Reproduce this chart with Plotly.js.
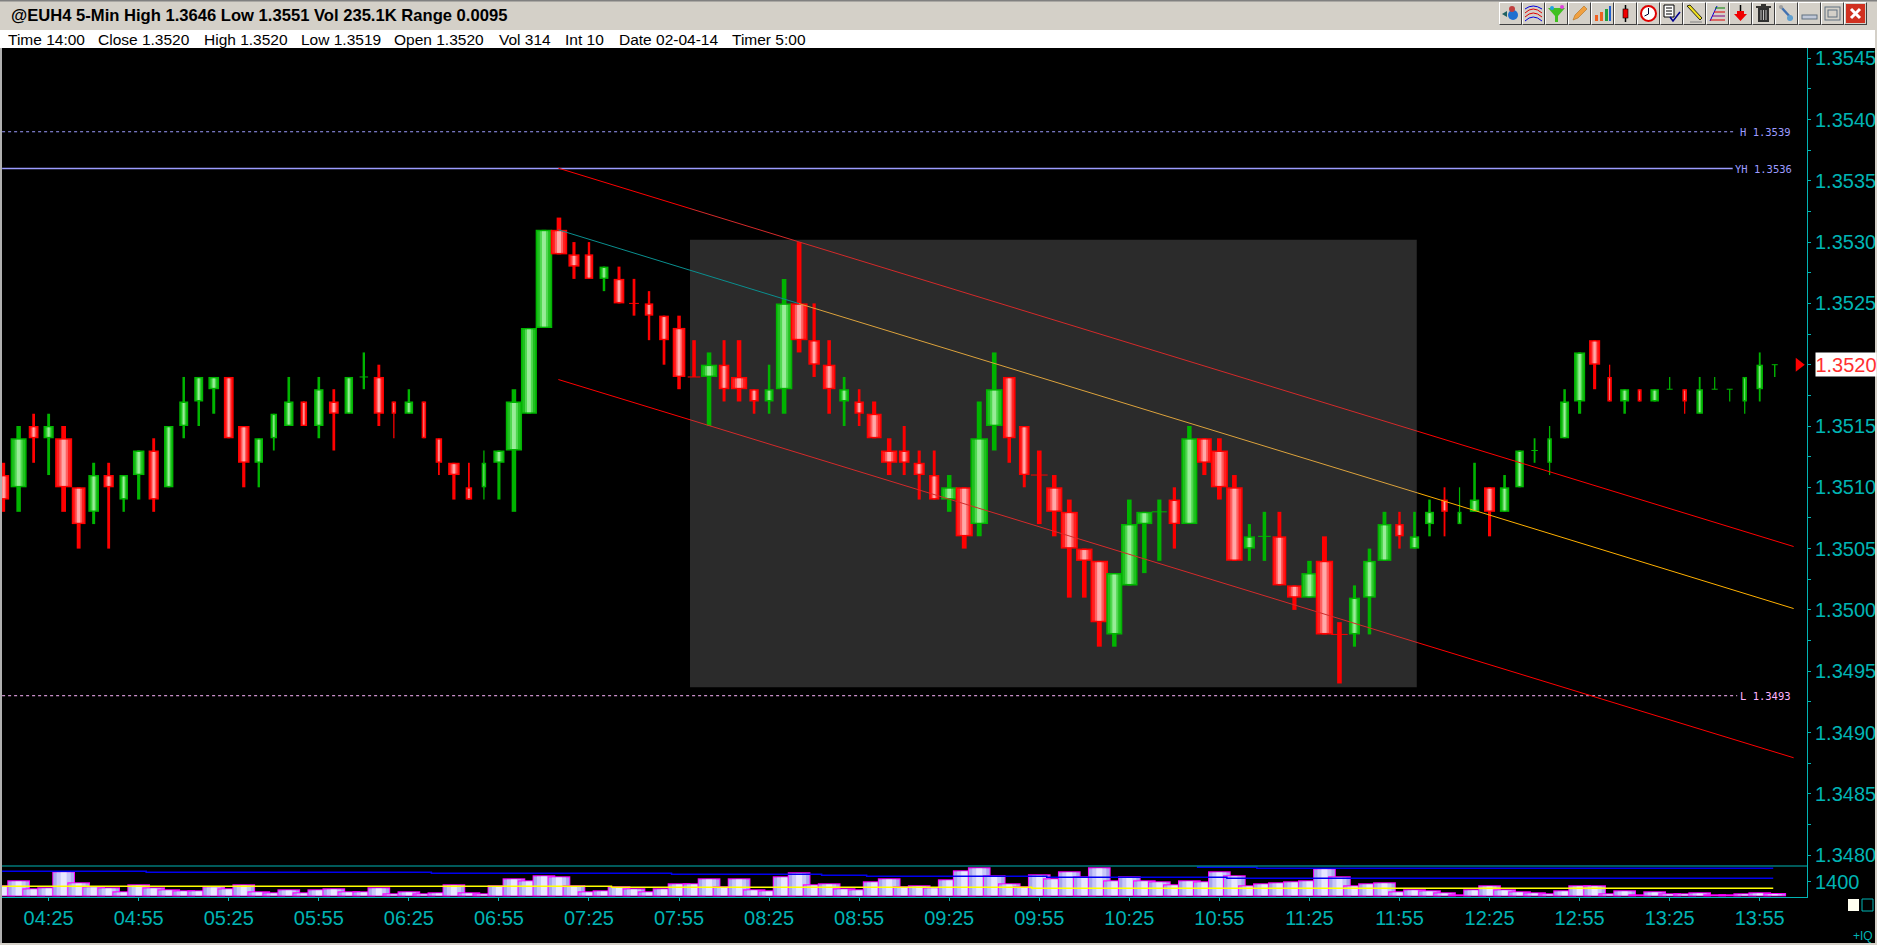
<!DOCTYPE html>
<html>
<head>
<meta charset="utf-8">
<script src="https://cdn.plot.ly/plotly-3.0.1.min.js"></script>
<style>
html, body { margin: 0; padding: 0; background: #000; overflow: hidden; }
#chart { position: absolute; left: 0; top: 0; width: 1877px; height: 945px; }
#toolbar { position: absolute; left: 1499px; top: 2px; display: flex; }
#toolbar div { width: 21px; height: 21px; background: #d4d0c8; border-style: solid; border-width: 1px;
  border-color: #fff #404040 #404040 #fff; overflow: hidden; }
#toolbar svg { display: block; width: 21px; height: 21px; }
</style>
</head>
<body>
<div id="chart"></div>
<div id="toolbar"></div>
<script>
// 5 minute bars from 04:10 to 14:00
const opens = [
  1.3511,1.3510,1.3515,1.3514,1.3514,1.3510,1.3508,1.3511,1.3509,1.3511,1.3513,1.3510,
  1.3515,1.3517,1.3518,1.3519,1.3515,1.3512,1.3514,1.3515,1.3517,1.3515,1.3517,1.3516,
  1.3519,1.3519,1.3517,1.3516,1.3517,1.3514,1.3512,1.3510,1.3510,1.3512,1.3513,1.3516,
  1.3523,1.3531,1.3529,1.3529,1.3527,1.3527,1.3525,1.3525,1.3524,1.3523,1.3519,1.3519,
  1.3520,1.3519,1.3518,1.3517,1.3518,1.3525,1.3522,1.3520,1.3517,1.3517,1.3516,1.3513,
  1.3513,1.3512,1.3511,1.3509,1.3510,1.3507,1.3515,1.3519,1.3515,1.3511,1.3510,1.3508,
  1.3505,1.3504,1.3498,1.3502,1.3507,1.3508,1.3509,1.3507,1.3514,1.3513,1.3510,1.3505,
  1.3506,1.3506,1.3502,1.3501,1.3504,1.3498,1.3498,1.3501,1.3504,1.3507,1.3505,1.3507,
  1.3509,1.3507,1.3508,1.3510,1.3508,1.3510,1.3513,1.3512,1.3514,1.3517,1.3522,1.3519,
  1.3517,1.3518,1.3517,1.3518,1.3518,1.3516,1.3518,1.3518,1.3517,1.3518,1.3520];
const highs = [
  1.3512,1.3515,1.3516,1.3516,1.3515,1.3510,1.3512,1.3512,1.3511,1.3513,1.3514,1.3515,
  1.3519,1.3519,1.3519,1.3519,1.3515,1.3514,1.3516,1.3519,1.3517,1.3519,1.3518,1.3519,
  1.3521,1.3520,1.3517,1.3518,1.3517,1.3514,1.3512,1.3512,1.3513,1.3513,1.3518,1.3523,
  1.3531,1.3532,1.3530,1.3530,1.3528,1.3528,1.3527,1.3526,1.3524,1.3524,1.3522,1.3521,
  1.3522,1.3522,1.3518,1.3520,1.3527,1.3530,1.3525,1.3522,1.3519,1.3518,1.3517,1.3514,
  1.3515,1.3513,1.3513,1.3511,1.3510,1.3517,1.3521,1.3519,1.3515,1.3513,1.3511,1.3509,
  1.3505,1.3504,1.3503,1.3509,1.3508,1.3509,1.3510,1.3515,1.3514,1.3514,1.3511,1.3507,
  1.3508,1.3508,1.3502,1.3504,1.3506,1.3499,1.3502,1.3505,1.3508,1.3508,1.3508,1.3509,
  1.3510,1.3510,1.3512,1.3510,1.3511,1.3513,1.3514,1.3515,1.3518,1.3521,1.3522,1.3520,
  1.3518,1.3518,1.3518,1.3519,1.3518,1.3519,1.3519,1.3518,1.3519,1.3521,1.3520];
const lows = [
  1.3508,1.3508,1.3512,1.3511,1.3508,1.3505,1.3507,1.3505,1.3508,1.3509,1.3508,1.3510,
  1.3514,1.3515,1.3516,1.3514,1.3510,1.3510,1.3513,1.3515,1.3515,1.3514,1.3513,1.3516,
  1.3518,1.3515,1.3514,1.3516,1.3514,1.3511,1.3509,1.3509,1.3509,1.3509,1.3508,1.3516,
  1.3523,1.3529,1.3527,1.3527,1.3526,1.3525,1.3524,1.3522,1.3520,1.3518,1.3519,1.3515,
  1.3517,1.3517,1.3516,1.3516,1.3516,1.3521,1.3519,1.3516,1.3515,1.3515,1.3514,1.3511,
  1.3511,1.3509,1.3509,1.3508,1.3505,1.3506,1.3513,1.3512,1.3510,1.3507,1.3506,1.3501,
  1.3501,1.3497,1.3497,1.3502,1.3503,1.3504,1.3505,1.3507,1.3511,1.3509,1.3504,1.3504,
  1.3504,1.3502,1.3500,1.3501,1.3498,1.3494,1.3497,1.3498,1.3504,1.3505,1.3505,1.3506,
  1.3506,1.3507,1.3508,1.3506,1.3508,1.3510,1.3512,1.3511,1.3514,1.3516,1.3518,1.3517,
  1.3516,1.3517,1.3517,1.3518,1.3516,1.3516,1.3518,1.3517,1.3516,1.3517,1.3519];
const closes = [
  1.3509,1.3514,1.3514,1.3515,1.3510,1.3507,1.3511,1.3510,1.3511,1.3513,1.3509,1.3515,
  1.3517,1.3519,1.3519,1.3514,1.3512,1.3514,1.3516,1.3517,1.3515,1.3518,1.3516,1.3519,
  1.3519,1.3516,1.3516,1.3517,1.3514,1.3512,1.3511,1.3509,1.3512,1.3513,1.3517,1.3523,
  1.3531,1.3529,1.3528,1.3527,1.3528,1.3525,1.3525,1.3524,1.3522,1.3519,1.3519,1.3520,
  1.3518,1.3518,1.3517,1.3518,1.3525,1.3522,1.3520,1.3518,1.3518,1.3516,1.3514,1.3512,
  1.3512,1.3511,1.3509,1.3510,1.3506,1.3514,1.3518,1.3514,1.3511,1.3511,1.3508,1.3505,
  1.3504,1.3499,1.3503,1.3507,1.3508,1.3508,1.3507,1.3514,1.3512,1.3510,1.3504,1.3506,
  1.3506,1.3502,1.3501,1.3503,1.3498,1.3498,1.3501,1.3504,1.3507,1.3506,1.3506,1.3508,
  1.3508,1.3508,1.3509,1.3508,1.3510,1.3513,1.3513,1.3514,1.3517,1.3521,1.3520,1.3517,
  1.3518,1.3517,1.3518,1.3518,1.3517,1.3518,1.3518,1.3518,1.3519,1.3520,1.3520];
// bars where open equals close but the platform paints them green
const greenDojis = [24, 77, 84, 102, 111, 114, 115, 118];

const volumes = [
  1056,1536,768,864,2400,1344,960,864,480,1152,864,672,
  576,576,960,768,1152,480,384,672,384,672,768,480,
  480,864,288,480,288,384,1152,384,288,1056,1728,1536,
  2016,1920,1056,480,576,960,768,480,768,1248,1248,1728,
  960,1728,672,576,1920,2304,1152,1248,768,672,1440,1728,
  960,1056,864,1632,2496,2784,2016,1248,960,2112,1728,2400,
  1920,2784,1536,1920,1536,1440,1152,1536,1440,2400,2016,1056,
  1248,1344,1440,1536,2688,1920,1056,1248,1344,480,672,576,
  384,192,672,1056,672,480,384,288,576,1056,1056,288,
  576,192,480,288,288,384,192,192,288,384,314];

// step lines in the volume pane
const volAvgX = [-0.1, 40.5, 68.5, 117.9];
const volAvgY = [960, 864, 768, 768];
const volBlueX = [-0.1, 9.5, 28.5, 44.5, 54.5, 57.5, 69.5, 81.5, 117.9];
const volBlueY = [2400, 2304, 2208, 2112, 2016, 1920, 1824, 1728, 1728];
const volTopX = [79.5, 83.5, 117.9];
const volTopY = [2784, 2688, 2688];

// regression channel, split where its colour changes
const channelX = [36.96, 45.73, 94.23, 119.26];
const channelUpper = [1.353603, 1.353274, 1.351456, 1.350517];
const channelLower = [1.351879, 1.351551, 1.349732, 1.348794];
const channelMidX = [36.96, 53, 94.23, 119.26];
const channelMid = [1.3531, 1.352498, 1.350953, 1.350011];

const levelNames = ['H 1.3539', 'YH 1.3536', 'L 1.3493'];
const levelValues = [1.3539, 1.3536, 1.3493];
const lastPrice = 1.3520;

const tickTimes = ['04:25','04:55','05:25','05:55','06:25','06:55','07:25','07:55','08:25','08:55',
  '09:25','09:55','10:25','10:55','11:25','11:55','12:25','12:55','13:25','13:55'];
const priceTicks = [1.348,1.3485,1.349,1.3495,1.35,1.3505,1.351,1.3515,1.352,1.3525,1.353,1.3535,1.354,1.3545];

const titleText = '@EUH4 5-Min High 1.3646 Low 1.3551 Vol 235.1K Range 0.0095';
const infoItems = ['Time 14:00','Close 1.3520','High 1.3520','Low 1.3519','Open 1.3520','Vol 314','Int 10','Date 02-04-14','Timer 5:00'];
const infoLeft = [7, 96.5, 202.5, 300, 393, 497.5, 563.5, 617.5, 731];

// page geometry, in pixels of the 1877x945 window
const W = 1877, H = 945;
const PLOT_L = 2, PLOT_R = 1807, PRICE_T = 48, VOL_T = 866, VOL_B = 897;
const BAR_PX = 15.01;
const PRICE_PX = 0.0001 / 12.26;
const VOL_PX = 96;
const TEAL = '#00b4b4';
const SANS = 'Liberation Sans';
const px = (x) => x / W;
const py = (y) => 1 - y / H;

// candle width follows volume, as the platform does
const widthStops = [[192, 4], [288, 4.5], [480, 8.5], [1152, 11.5], [1536, 16], [2784, 17.5]];
function bodyWidth(v) {
  for (let k = 1; k < widthStops.length; k++) {
    if (v <= widthStops[k][0]) {
      const a = widthStops[k - 1], b = widthStops[k];
      return a[1] + (b[1] - a[1]) * Math.max(0, v - a[0]) / (b[0] - a[0]);
    }
  }
  return 17.5;
}

function barLayers() {
  const t = { x: [], base: [], y: [], width: [], color: [] };
  t.add = function (x, lo, hi, w, color) {
    t.x.push(x); t.base.push(lo); t.y.push(hi - lo); t.width.push(w / BAR_PX); t.color.push(color);
  };
  return t;
}

const GREEN = ['#00b400', '#20c020', '#50d850', '#98ec98'];
const RED = ['#ff0000', '#ff2020', '#ff6060', '#ffa8a8'];

const candles = barLayers();
opens.forEach(function (o, i) {
  const c = closes[i];
  const pal = (c > o || greenDojis.includes(i)) ? GREEN : RED;
  const top = Math.max(o, c), bottom = Math.min(o, c), w = bodyWidth(volumes[i]);
  candles.add(i, lows[i], highs[i], Math.max(1.2, w * 0.28), pal[0]);
  if (top === bottom) {
    candles.add(i, bottom - PRICE_PX * 0.5, bottom + PRICE_PX * 0.5, Math.max(w, 6), pal[0]);
    return;
  }
  candles.add(i, bottom, top, w, pal[0]);
  const inset = 1.5 * PRICE_PX;
  candles.add(i, bottom + inset, top - inset, w - 3.2, pal[1]);
  candles.add(i, bottom + inset, top - inset, (w - 3.2) * 0.62, pal[2]);
  candles.add(i, bottom + inset, top - inset, (w - 3.2) * 0.3, pal[3]);
});

const volBars = barLayers();
volumes.forEach(function (v, i) {
  volBars.add(i, 0, v, 22.7, '#ff00ff');
  const hi = v - 1.2 * VOL_PX;
  if (hi > VOL_PX) {
    volBars.add(i, VOL_PX, hi, 20.7, '#a8a8ee');
    volBars.add(i, VOL_PX, hi, 14, '#c8c8f8');
    volBars.add(i, VOL_PX, hi, 6, '#e8e8ff');
  }
});

function barTrace(t, yaxis) {
  return { type: 'bar', x: t.x, y: t.y, base: t.base, width: t.width, yaxis: yaxis,
    marker: { color: t.color, line: { width: 0 } }, hoverinfo: 'skip' };
}
function lineTrace(x, y, color, width, yaxis, extra) {
  return { type: 'scatter', mode: 'lines', x: x, y: y, yaxis: yaxis, hoverinfo: 'skip',
    line: Object.assign({ color: color, width: width }, extra || {}) };
}

const traces = [barTrace(candles, 'y'), barTrace(volBars, 'y2')];

const levelColors = ['#9c9cff', '#9c9cff', '#ffb4ff'];
const levelEnds = [115.3, 115.2, 115.5];
levelValues.forEach(function (v, i) {
  traces.push(lineTrace([-0.1, levelEnds[i]], [v, v], levelColors[i], i === 1 ? 1.6 : 1, 'y', i === 1 ? {} : { dash: '3px,3px' }));
});

const upperColors = ['#ff0000', '#d42a2a', '#ff0000'];
const midColors = ['#0a8f8f', '#dca23c', '#ffb000'];
for (let k = 0; k < 3; k++) {
  traces.push(lineTrace(channelX.slice(k, k + 2), channelUpper.slice(k, k + 2), upperColors[k], 1, 'y'));
  traces.push(lineTrace(channelX.slice(k, k + 2), channelLower.slice(k, k + 2), upperColors[k], 1, 'y'));
  traces.push(lineTrace(channelMidX.slice(k, k + 2), channelMid.slice(k, k + 2), midColors[k], 1, 'y'));
}

traces.push(lineTrace(volAvgX, volAvgY, '#ffff00', 1.5, 'y2', { shape: 'hv' }));
traces.push(lineTrace(volBlueX, volBlueY, '#0000f0', 1.5, 'y2', { shape: 'hv' }));
traces.push(lineTrace(volTopX, volTopY, '#0000f0', 1.5, 'y2', { shape: 'hv' }));
traces.push({ type: 'scatter', mode: 'markers', x: [119.6], y: [lastPrice], hoverinfo: 'skip', cliponaxis: false,
  marker: { symbol: 'triangle-right', size: 12, color: '#ff0000' } });

function paperRect(x0, y0, x1, y1, fill, line) {
  return { type: 'rect', xref: 'paper', yref: 'paper', x0: px(x0), x1: px(x1), y0: py(y1), y1: py(y0),
    fillcolor: fill, line: { width: line ? 1 : 0, color: line || fill } };
}

const shapes = [
  { type: 'rect', xref: 'x', yref: 'y', layer: 'below', x0: 45.73, x1: 94.15, y0: 1.34937, y1: 1.35302,
    fillcolor: '#2b2b2b', line: { width: 0 } },
  paperRect(0, 0, W, 30, '#d4d0c8'),
  paperRect(0, 0, W, 1.5, '#808080'),
  paperRect(0, 30, W, 48, '#ffffff'),
  paperRect(0, 48, 2, H, '#b0b0b0'),
  paperRect(1875, 30, W, H, '#d4d0c8'),
  paperRect(0, 943, W, H, '#d4d0c8'),
  { type: 'line', xref: 'paper', yref: 'paper', x0: px(PLOT_L), x1: px(PLOT_R), y0: py(VOL_T), y1: py(VOL_T),
    line: { color: TEAL, width: 1 } },
  paperRect(1848, 899, 1859, 911, '#fffff0'),
  paperRect(1862, 899, 1873, 911, '#000000', TEAL)
];

const annotations = infoItems.map(function (text, i) {
  return { xref: 'paper', yref: 'paper', x: px(infoLeft[i]), y: py(39.5), xanchor: 'left', yanchor: 'middle',
    text: text, showarrow: false, borderpad: 0, font: { family: SANS, size: 15.5, color: '#000' } };
});
const levelLabelX = [115.62, 115.3, 115.62];
levelNames.forEach(function (text, i) {
  annotations.push({ xref: 'x', yref: 'y', x: levelLabelX[i], y: levelValues[i], xanchor: 'left', yanchor: 'middle',
    text: text, showarrow: false, borderpad: 0, font: { family: 'DejaVu Sans Mono', size: 10.5, color: levelColors[i] } });
});
annotations.push({ xref: 'paper', yref: 'y', x: px(1815), y: lastPrice, xanchor: 'left', yanchor: 'middle',
  width: 60, height: 23, align: 'center', text: '1.3520', showarrow: false, bgcolor: '#ffffff', borderpad: 0,
  font: { family: SANS, size: 20, color: '#ff3030' } });
annotations.push({ xref: 'paper', yref: 'paper', x: px(1874), y: py(936), xanchor: 'right', yanchor: 'middle',
  text: '+IQ', showarrow: false, borderpad: 0, font: { family: SANS, size: 12, color: TEAL } });

const axisFont = { family: SANS, size: 20, color: TEAL };
const layout = {
  width: W, height: H,
  margin: { l: 0, r: 0, t: 0, b: 0, pad: 0 },
  paper_bgcolor: '#000000', plot_bgcolor: '#000000',
  showlegend: false, hovermode: false, barmode: 'overlay',
  title: { text: titleText, xref: 'paper', yref: 'paper', x: px(11), y: py(15.5), xanchor: 'left', yanchor: 'middle',
    font: { family: SANS, size: 16.6, weight: 'bold', color: '#000' } },
  xaxis: {
    domain: [px(PLOT_L), px(PLOT_R)], range: [-0.107, 120.15], anchor: 'y2',
    tickmode: 'array', tickvals: tickTimes.map(function (t, i) { return 3 + 6 * i; }), ticktext: tickTimes,
    ticks: 'outside', ticklen: 3, tickcolor: TEAL, tickfont: axisFont, showgrid: false, zeroline: false,
    showline: true, linecolor: TEAL, linewidth: 1
  },
  yaxis: {
    domain: [py(VOL_T), py(PRICE_T)], range: [1.3545 - 807.8 * PRICE_PX, 1.3545 + 10.2 * PRICE_PX],
    side: 'right', anchor: 'x', tickmode: 'array', tickvals: priceTicks, tickformat: '.4f',
    ticks: 'outside', ticklen: 3, tickcolor: TEAL, tickfont: axisFont, showgrid: false, zeroline: false,
    showline: true, linecolor: TEAL, linewidth: 1,
    minor: { dtick: 0.00025, tick0: 1.35, ticks: 'outside', ticklen: 3, tickcolor: TEAL, showgrid: false }
  },
  yaxis2: {
    domain: [py(VOL_B), py(VOL_T)], range: [-67, 2909],
    side: 'right', anchor: 'x', tickmode: 'array', tickvals: [1400], ticktext: ['1400'],
    ticks: 'outside', ticklen: 3, tickcolor: TEAL, tickfont: axisFont, showgrid: false, zeroline: false,
    showline: true, linecolor: TEAL, linewidth: 1
  },
  shapes: shapes,
  annotations: annotations
};

Plotly.newPlot('chart', traces, layout, { displayModeBar: false, staticPlot: true });

// toolbar buttons of the charting window
const toolbarIcons = [
  '<circle cx="13" cy="12" r="5" fill="#2070d0"/><circle cx="12" cy="6" r="3" fill="#c04040"/><path d="M2 11l5-3v6z" fill="#206060"/>',
  '<path d="M2 10q8-8 17 0M2 14q8-8 17 0" fill="none" stroke="#e00000"/><path d="M2 6q8-6 17 0M2 18q8-8 17 0" fill="none" stroke="#0000e0"/>',
  '<path d="M2 5h17l-7 8v6h-3v-6z" fill="#40c020"/><circle cx="6" cy="5" r="2" fill="#20a0e0"/><circle cx="16" cy="4" r="2" fill="#e040e0"/>',
  '<path d="M4 17l2-5 9-9 3 3-9 9z" fill="#f0a040" stroke="#b07020" stroke-width=".6"/>',
  '<path d="M3 18v-6h3v6zM8 18v-9h3v9z" fill="#f06020"/><path d="M13 18v-12h3v12z" fill="#20a040"/><path d="M17 18v-15h2v15z" fill="#2060d0"/>',
  '<path d="M10.5 2v17" stroke="#000" stroke-width="1.5"/><rect x="8" y="6" width="5" height="9" fill="#f00000" stroke="#000" stroke-width=".6"/>',
  '<circle cx="10.5" cy="10.5" r="7.5" fill="#fff" stroke="#e00000" stroke-width="2"/><path d="M10.5 5v6l-4 2" fill="none" stroke="#000030"/>',
  '<path d="M3 2h10v12h-10z" fill="#fff" stroke="#000"/><path d="M5 5h6M5 8h6M5 11h6" stroke="#000"/><path d="M9 14l3 4 7-9" fill="none" stroke="#000090" stroke-width="1.6"/>',
  '<path d="M3 3l3-1 12 13-2 2z" fill="#f0e020" stroke="#000" stroke-width=".8"/><path d="M6 19h12" stroke="#808080"/>',
  '<path d="M3 18l7-15" stroke="#0000e0"/><path d="M8 5h10" stroke="#008000"/><path d="M7 9h11" stroke="#e00000"/><path d="M5 13h13" stroke="#800080"/><path d="M3 17h15" stroke="#e00000"/>',
  '<path d="M10.5 2v6" stroke="#000" stroke-width="1.5"/><path d="M7 8h7v3h3l-6.5 7-6.5-7h3z" fill="#f00000"/>',
  '<rect x="5" y="5" width="11" height="14" fill="#303030"/><path d="M3 4h15M8 2h5" stroke="#000" stroke-width="1.5"/><path d="M8 7v10M10.5 7v10M13 7v10" stroke="#c0c0c0"/>',
  '<path d="M5 4l11 12" stroke="#4070b0" stroke-width="2.4"/><circle cx="14" cy="15" r="3" fill="#60a0d0"/><circle cx="5" cy="4" r="2" fill="#a0a0a0"/>',
  '<rect x="3" y="12" width="15" height="4" fill="#c0c8d8" stroke="#607080"/>',
  '<rect x="3" y="4" width="15" height="13" fill="none" stroke="#607080"/><rect x="6" y="7" width="9" height="7" fill="none" stroke="#607080"/>',
  '<rect x="1" y="1" width="19" height="19" fill="#d03020"/><path d="M6 6l9 9M15 6l-9 9" stroke="#fff" stroke-width="3"/>'
];
document.getElementById('toolbar').innerHTML = toolbarIcons.map(function (s) {
  return '<div><svg viewBox="0 0 21 21">' + s + '</svg></div>';
}).join('');
</script>
</body>
</html>
